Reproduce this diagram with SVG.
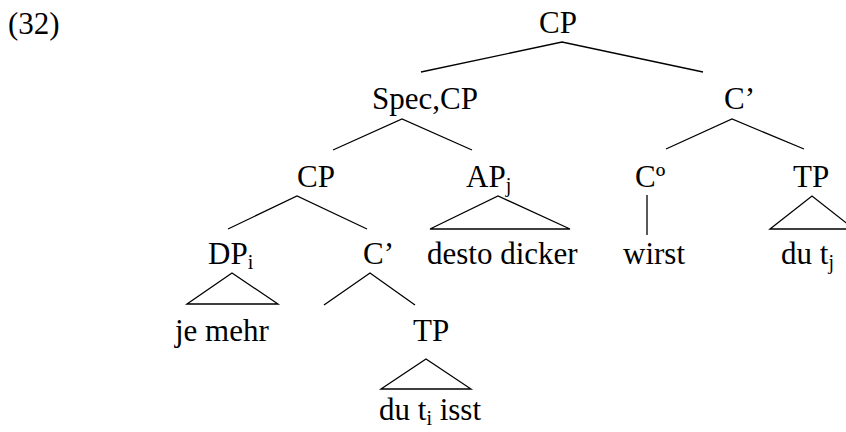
<svg xmlns="http://www.w3.org/2000/svg" width="846" height="432" viewBox="0 0 846 432">
<style>
text{font-family:"Liberation Serif","Times New Roman",serif;font-size:31px;fill:#000}
.sub{font-size:20px}
#connectors line,#connectors polyline,#connectors polygon{stroke:#000;stroke-width:1.3;fill:none}
</style>
<rect width="846" height="432" fill="#fff"/>
<text id="label" x="8" y="34">(32)</text>
<g id="connectors">
<polyline points="421,72 562,42 703,72"/>
<polyline points="333,150 402,119 472,150"/>
<polyline points="666,149 732,119 804,149"/>
<polyline points="228,229 297,196 367,229"/>
<polygon points="430,229 498,196 570,229"/>
<line x1="647" y1="195" x2="647" y2="235"/>
<polygon points="770,229 812,196 854,229"/>
<polygon points="187,304 232,273 278,304"/>
<polyline points="324,305 370,273 415,305"/>
<polygon points="381,389 426,359 471,389"/>
</g>
<g id="n-cp"><text x="539" y="33">CP</text></g>
<g id="n-speccp"><text x="372" y="109">Spec,CP</text></g>
<g id="n-cbar1"><text x="724" y="109">C’</text></g>
<g id="n-cp2"><text x="297" y="187">CP</text></g>
<g id="n-ap"><text x="466" y="187">AP<tspan class="sub" dy="5">j</tspan></text></g>
<g id="n-c0"><text x="635" y="187">Cº</text></g>
<g id="n-tp1"><text x="793" y="187">TP</text></g>
<g id="n-dp"><text x="208" y="264">DP<tspan class="sub" dy="5">i</tspan></text></g>
<g id="n-cbar2"><text x="363" y="264">C’</text></g>
<g id="n-desto"><text x="427" y="264">desto dicker</text></g>
<g id="n-wirst"><text x="623" y="264">wirst</text></g>
<g id="n-dutj"><text x="781" y="264">du t<tspan class="sub" dy="5">j</tspan></text></g>
<g id="n-jemehr"><text x="175" y="341">je mehr</text></g>
<g id="n-tp2"><text x="413" y="341">TP</text></g>
<g id="n-duti"><text x="379" y="420">du t<tspan class="sub" dy="5">i</tspan><tspan dy="-5"> isst</tspan></text></g>
</svg>
